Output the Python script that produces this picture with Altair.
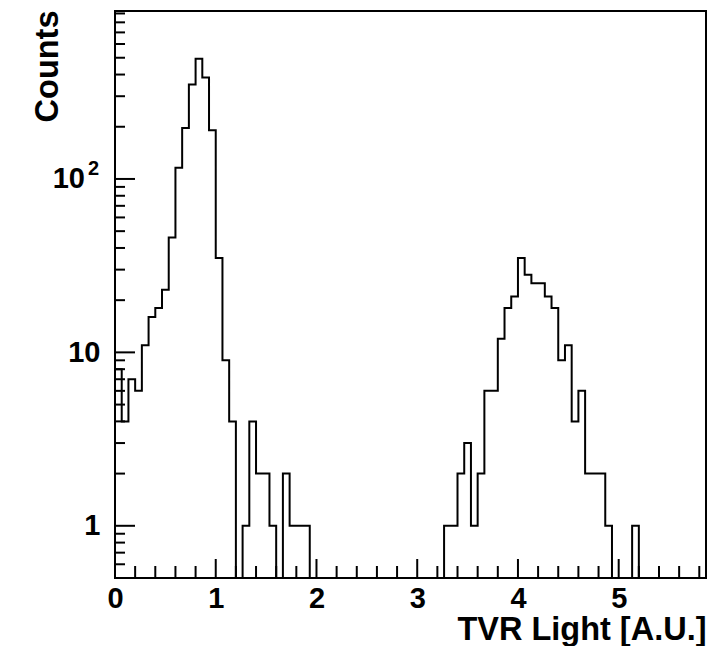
import altair as alt
import pandas as pd

# ---- data (88 bins of width 1/15 on 0 .. 88/15) ----
counts = [8, 4, 7, 6, 11, 16, 18, 23, 46, 116,
          197, 350, 494, 384, 191, 35, 9, 4, 0, 1,
          4, 2, 2, 1, 0, 2, 1, 1, 1, 0,
          0, 0, 0, 0, 0, 0, 0, 0, 0, 0,
          0, 0, 0, 0, 0, 0, 0, 0, 0, 1,
          1, 2, 3, 1, 2, 6, 6, 12, 18, 21,
          35, 28, 25, 25, 21, 18, 9, 11, 4, 6,
          2, 2, 2, 1, 0, 0, 0, 1, 0, 0,
          0, 0, 0, 0, 0, 0, 0, 0]
n_bins = 88
x_min = 0.0
x_max = 88 / 15
y_min = 0.5
y_max = 930

x_major = [0, 1, 2, 3, 4, 5]
x_minor = [0.2, 0.4, 0.6, 0.8, 1.2, 1.4, 1.6, 1.8, 2.2, 2.4, 2.6, 2.8,
           3.2, 3.4, 3.6, 3.8, 4.2, 4.4, 4.6, 4.8, 5.2, 5.4, 5.6, 5.8]
y_major = [1, 10, 100]
y_plain_labels = [1, 10]          # drawn by the axis
y_power_labels = [100]            # drawn as 10 + superscript
y_power_base = ["10"]
y_power_exp = ["2"]
y_minor = [0.6, 0.7, 0.8, 0.9, 2, 3, 4, 5, 6, 7, 8, 9,
           20, 30, 40, 50, 60, 70, 80, 90, 200, 300, 400, 500, 600, 700, 800, 900]

x_title = "TVR Light [A.U.]"
y_title = "Counts"

# ---- build step table ----
bw = (x_max - x_min) / n_bins
edges = [x_min + k * bw for k in range(n_bins)] + [x_max]
floor = 0.3  # zero bins drawn below the frame (clipped), as ROOT does
vals = [c if c > 0 else floor for c in counts]
vals = vals + [vals[-1]]
hist_df = pd.DataFrame({"x": edges, "y": vals})

FONT = "Liberation Sans"
W, H = 591, 567

xscale = alt.Scale(domain=[x_min, x_max], nice=False, zero=False)
yscale = alt.Scale(type="log", domain=[y_min, y_max], nice=False)

xaxis = alt.Axis(values=x_major, format="d", ticks=False, tickSize=0, domain=False,
                 grid=False, labelFont=FONT, labelFontSize=29, labelFontWeight="bold",
                 labelColor="black", labelPadding=6, labelFlush=False,
                 title=x_title, titleFont=FONT, titleFontSize=32.5, titleFontWeight="bold",
                 titleColor="black", titleAlign="right", titleBaseline="alphabetic",
                 titleX=W, titleY=61)
yaxis = alt.Axis(values=y_plain_labels, format="d", ticks=False, tickSize=0, domain=False,
                 grid=False, labelFont=FONT, labelFontSize=29, labelFontWeight="bold",
                 labelColor="black", labelPadding=15, labelFlush=False,
                 title=y_title, titleFont=FONT, titleFontSize=32.5, titleFontWeight="bold",
                 titleColor="black", titleAngle=270, titleAlign="right",
                 titleBaseline="alphabetic", titleX=-58, titleY=-1)

hist = alt.Chart(hist_df).mark_line(
    interpolate="step-after", color="black", strokeWidth=2, clip=True
).encode(
    x=alt.X("x:Q", scale=xscale, axis=xaxis, title=x_title),
    y=alt.Y("y:Q", scale=yscale, axis=yaxis, title=y_title),
)

xmaj = alt.Chart(pd.DataFrame({"x": x_major})).mark_rule(color="black", strokeWidth=2).encode(
    x=alt.X("x:Q", scale=xscale, axis=xaxis, title=x_title), y=alt.value(H), y2=alt.value(H - 19))
xmin_ = alt.Chart(pd.DataFrame({"x": x_minor})).mark_rule(color="black", strokeWidth=2).encode(
    x=alt.X("x:Q", scale=xscale, axis=xaxis, title=x_title), y=alt.value(H), y2=alt.value(H - 12))
ymaj = alt.Chart(pd.DataFrame({"y": y_major})).mark_rule(color="black", strokeWidth=2).encode(
    y=alt.Y("y:Q", scale=yscale, axis=yaxis, title=y_title), x=alt.value(0), x2=alt.value(20))
ymin_ = alt.Chart(pd.DataFrame({"y": y_minor})).mark_rule(color="black", strokeWidth=2).encode(
    y=alt.Y("y:Q", scale=yscale, axis=yaxis, title=y_title), x=alt.value(0), x2=alt.value(10))

pow_df = pd.DataFrame({"y": y_power_labels, "base": y_power_base, "exp": y_power_exp})
pow_base = alt.Chart(pow_df).mark_text(
    font=FONT, fontSize=29, fontWeight="bold", color="black", align="right", baseline="middle"
).encode(y=alt.Y("y:Q", scale=yscale, axis=yaxis, title=y_title), x=alt.value(-30), text="base:N")
pow_exp = alt.Chart(pow_df).mark_text(
    font=FONT, fontSize=20, fontWeight="bold", color="black", align="right", baseline="middle", dy=-10
).encode(y=alt.Y("y:Q", scale=yscale, axis=yaxis, title=y_title), x=alt.value(-16), text="exp:N")

chart = alt.layer(hist, xmaj, xmin_, ymaj, ymin_, pow_base, pow_exp).properties(
    width=W, height=H,
    padding={"left": 107, "top": 3, "right": 14, "bottom": 68},
    autosize=alt.AutoSizeParams(type="none"),
    background="white",
).configure_view(stroke="black", strokeWidth=2, fill="white")

chart.save("out.html", embed_options={"renderer": "svg", "actions": False})
